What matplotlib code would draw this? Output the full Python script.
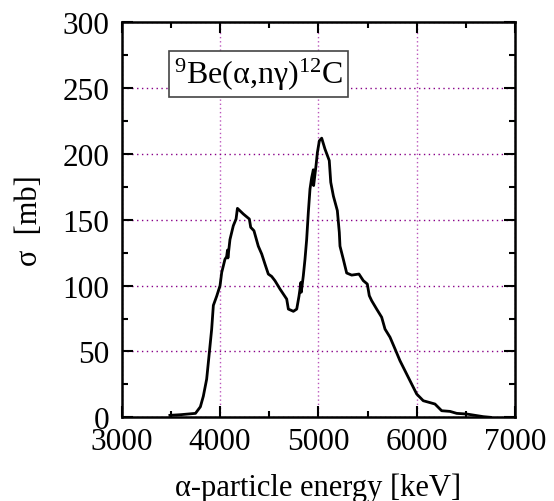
import matplotlib
matplotlib.use('Agg')
import matplotlib.pyplot as plt
from matplotlib.ticker import MultipleLocator

plt.rcParams['font.family'] = ['Liberation Serif', 'DejaVu Serif']
plt.rcParams['mathtext.fontset'] = 'custom'
plt.rcParams['mathtext.rm'] = 'Liberation Serif'
plt.rcParams['mathtext.it'] = 'Liberation Serif:italic'

# alpha-particle energy [keV] and cross section [mb]
energy = [3490, 3600, 3750, 3800, 3830, 3864, 3891, 3915, 3932, 3966, 4000,
          4017, 4050, 4067, 4076, 4080, 4101, 4135, 4163, 4177, 4237, 4298,
          4312, 4345, 4389, 4424, 4457, 4491, 4525, 4559, 4610, 4644, 4678,
          4695, 4746, 4780, 4803, 4823, 4826, 4847, 4864, 4881, 4898, 4915,
          4932, 4949, 4952, 4976, 4990, 5010, 5034, 5067, 5111, 5126, 5153,
          5193, 5213, 5220, 5254, 5288, 5339, 5413, 5457, 5498, 5518, 5542,
          5593, 5644, 5678, 5729, 5780, 5830, 5881, 5932, 6000, 6067, 6186,
          6254, 6339, 6407, 6509, 6678, 6750]
sigma = [1.5, 2.0, 3.0, 8, 16, 29, 49, 67, 85, 92, 100,
         110, 120, 122, 127, 121, 135, 145.5, 150.6, 158.7, 154.4, 150.6,
         144.3, 141.7, 130, 124, 116.4, 108.8, 107, 103.7, 97.4, 93.6, 89.8,
         82.2, 80.5, 82.2, 92, 102.5, 95, 107.5, 120, 135, 155.7, 173.4,
         182, 188, 176, 191, 201, 210, 212, 203.8, 195, 178.5, 168,
         157, 140.5, 130, 120, 109.6, 108, 108.8, 103.8, 101.2, 92.4, 88.6,
         82.2, 76, 67, 60.8, 51.9, 43, 35.4, 27.8, 17.7, 12.6, 10.1,
         5, 4.5, 3, 2.5, 0.5, 0]

fig = plt.figure(figsize=(5.54, 5.02), dpi=100)
ax = fig.add_axes([0.2197, 0.1667, 0.7099, 0.7869])

ax.plot(energy, sigma, color='black', lw=2.0, solid_joinstyle='round')

ax.set_xlim(3000, 7000)
ax.set_ylim(0, 300)
ax.xaxis.set_major_locator(MultipleLocator(1000))
ax.xaxis.set_minor_locator(MultipleLocator(500))
ax.yaxis.set_major_locator(MultipleLocator(50))
ax.yaxis.set_minor_locator(MultipleLocator(25))
ax.tick_params(which='both', direction='in', top=True, right=True, width=1.5)
ax.tick_params(which='major', length=8, labelsize=22.5)
ax.tick_params(axis='x', which='major', pad=7)
ax.tick_params(axis='y', which='major', pad=9)
ax.tick_params(which='minor', length=4)
for s in ax.spines.values():
    s.set_linewidth(1.8)

# horizontal grid darker, vertical grid lighter as in the original
ax.yaxis.grid(True, which='major', color='#880088', linestyle=(0, (1, 2.5)), lw=1.0)
ax.xaxis.grid(True, which='major', color='#bb55bb', linestyle=(0, (1, 2)), lw=1.0)
ax.set_axisbelow(True)

ax.set_xlabel(u'\u03b1-particle energy [keV]', fontsize=22, labelpad=12)
ax.set_ylabel(u'\u03c3  [mb]', fontsize=22, labelpad=13)

label = u'$^{9}$Be(\u03b1,n\u03b3)$^{12}$C'
ax.text(3530, 261, label, fontsize=23, ha='left', va='center',
        bbox=dict(boxstyle='square,pad=0.15', fc='white', ec='#444444', lw=1.2))

fig.savefig('out.png', dpi=100)
plt.close()
